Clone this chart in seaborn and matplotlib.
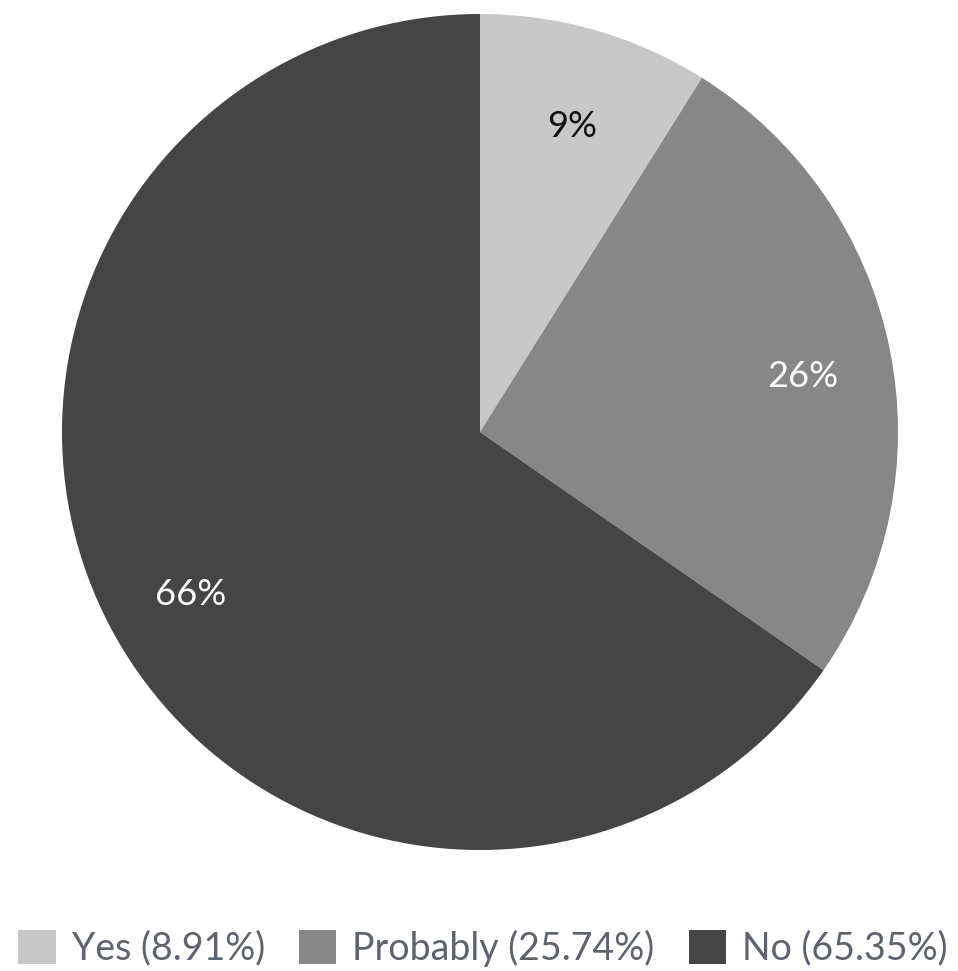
import matplotlib
matplotlib.use("Agg")
import matplotlib.pyplot as plt
import matplotlib.transforms as mtransforms
import seaborn as sns
from matplotlib.patches import Patch

sns.set_theme(style="white")
plt.rcParams['font.family'] = ['Lato', 'DejaVu Sans']

categories = ["Yes", "Probably", "No"]
values = [8.91, 25.74, 65.35]
labels_pct = ["9%", "26%", "66%"]
colors = ["#c8c8c8", "#878787", "#454545"]
label_colors = ["#111111", "white", "white"]

fig = plt.figure(figsize=(9.58, 9.71), dpi=100)
ax = fig.add_axes([62/958, 121/971, 836/958, 836/971])
wedges, texts = ax.pie(values, colors=colors, startangle=90, counterclock=False,
                       labels=labels_pct, labeldistance=0.785,
                       textprops=dict(fontsize=26),
                       wedgeprops=dict(linewidth=0))
shift = mtransforms.offset_copy(ax.transData, fig=fig, x=1, y=-10, units="dots")
for t, c in zip(texts, label_colors):
    t.set_color(c)
    t.set_ha("center"); t.set_va("center")
    t.set_transform(shift)
ax.set_xlim(-1, 1)
ax.set_ylim(-1, 1)
ax.set_aspect("equal")

handles = [Patch(facecolor=c, edgecolor="none") for c in colors]
leg_labels = [f"{c} ({v:.2f}%)" for c, v in zip(categories, values)]
leg = fig.legend(handles, leg_labels, loc="center", bbox_to_anchor=(483/958, 23/971),
                 ncol=3, frameon=False, fontsize=27, handlelength=1.0, handleheight=1.0,
                 handletextpad=0.43, columnspacing=0.9, labelcolor="#5d6470",
                 borderpad=0, borderaxespad=0)
fig.savefig("out.png", dpi=100, facecolor="white")
